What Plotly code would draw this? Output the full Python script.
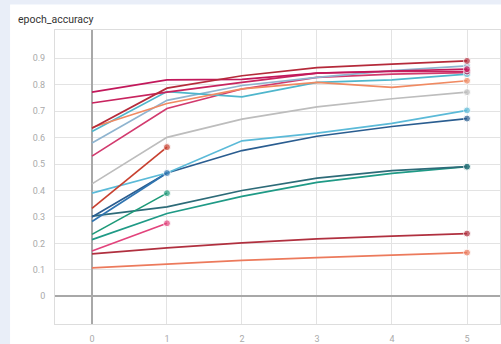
import plotly.graph_objects as go

epochs = [0, 1, 2, 3, 4, 5]
short_epochs = [0, 1]
y_ticks = [0, 0.1, 0.2, 0.3, 0.4, 0.5, 0.6, 0.7, 0.8, 0.9]
y_tick_labels = ["0", "0.1", "0.2", "0.3", "0.4", "0.5", "0.6", "0.7", "0.8", "0.9"]

run_dark_red_top = [0.635, 0.787, 0.834, 0.865, 0.878, 0.89]
run_magenta_top = [0.772, 0.818, 0.82, 0.844, 0.852, 0.859]
run_magenta_2 = [0.731, 0.772, 0.809, 0.844, 0.85, 0.85]
run_orange = [0.638, 0.729, 0.784, 0.809, 0.79, 0.815]
run_cyan_top = [0.623, 0.774, 0.754, 0.809, 0.818, 0.84]
run_steel = [0.58, 0.741, 0.797, 0.828, 0.853, 0.871]
run_magenta_3 = [0.53, 0.71, 0.784, 0.828, 0.84, 0.846]
run_gray = [0.425, 0.601, 0.67, 0.716, 0.747, 0.772]
run_cyan = [0.39, 0.466, 0.588, 0.617, 0.654, 0.703]
run_navy = [0.30, 0.466, 0.551, 0.605, 0.642, 0.672]
run_dark_teal = [0.303, 0.338, 0.40, 0.447, 0.475, 0.49]
run_green_teal = [0.214, 0.313, 0.378, 0.431, 0.465, 0.49]
run_dark_red_low = [0.16, 0.183, 0.202, 0.217, 0.227, 0.237]
run_orange_low = [0.107, 0.121, 0.136, 0.146, 0.155, 0.165]

short_red = [0.332, 0.564]
short_blue = [0.283, 0.466]
short_green = [0.234, 0.39]
short_pink = [0.171, 0.276]

full_runs = [
    (run_orange_low, "#ec7a5c"),
    (run_dark_red_low, "#b0303f"),
    (run_green_teal, "#1f9a86"),
    (run_dark_teal, "#2d6b78"),
    (run_navy, "#2a5d90"),
    (run_cyan, "#5bbad8"),
    (run_gray, "#bdbdbd"),
    (run_magenta_3, "#d23a6e"),
    (run_steel, "#8fb4cf"),
    (run_cyan_top, "#4fb6cc"),
    (run_orange, "#f08a62"),
    (run_magenta_2, "#c8245f"),
    (run_magenta_top, "#c2185b"),
    (run_dark_red_top, "#b52a3a"),
]
short_runs = [
    (short_red, "#c8402f"),
    (short_blue, "#2f74b0"),
    (short_green, "#1d9a78"),
    (short_pink, "#e2437c"),
]

fig = go.Figure()
for vals, col in full_runs:
    fig.add_trace(go.Scatter(
        x=epochs, y=vals, mode="lines+markers",
        line=dict(color=col, width=1.7),
        marker=dict(color=col, size=[0] * (len(vals) - 1) + [7]),
        showlegend=False, hoverinfo="skip"))
for vals, col in short_runs:
    fig.add_trace(go.Scatter(
        x=short_epochs, y=vals, mode="lines+markers",
        line=dict(color=col, width=1.7),
        marker=dict(color=col, size=[0] * (len(vals) - 1) + [7]),
        showlegend=False, hoverinfo="skip"))

fig.update_layout(
    width=501, height=344,
    margin=dict(l=55, r=0, t=30, b=15),
    paper_bgcolor="#e9eef8",
    plot_bgcolor="white",
    font=dict(family="Roboto, Arial, sans-serif"),
    shapes=[dict(type="rect", xref="paper", yref="paper",
                 x0=-0.101, x1=1.05, y0=-0.1, y1=1.087,
                 fillcolor="white", line=dict(width=0), layer="below")],
    annotations=[dict(text="epoch_accuracy", xref="paper", yref="paper",
                      x=-0.087, y=1.037, xanchor="left", yanchor="middle",
                      showarrow=False, font=dict(size=10.5, color="#333333"))],
)
fig.update_xaxes(
    range=[-0.493, 5.44], tickvals=epochs, ticktext=[str(e) for e in epochs],
    showgrid=True, gridcolor="#e3e3e3", gridwidth=1,
    zeroline=True, zerolinecolor="#a8a8a8", zerolinewidth=1.5,
    showline=True, linecolor="#dddddd", linewidth=1, mirror=True,
    tickfont=dict(size=9, color="#aaaaaa"), ticks="", ticklabelstandoff=6,
)
fig.update_yaxes(
    range=[-0.105, 1.007], tickvals=y_ticks, ticktext=y_tick_labels,
    showgrid=True, gridcolor="#e3e3e3", gridwidth=1,
    zeroline=True, zerolinecolor="#a8a8a8", zerolinewidth=1.5,
    showline=True, linecolor="#dddddd", linewidth=1, mirror=True,
    tickfont=dict(size=9, color="#aaaaaa"), ticks="", ticklabelstandoff=7,
)

fig.write_html(
    "out.html",
    config={"displayModeBar": False},
    post_script="document.body.style.margin='0';document.body.style.overflow='hidden';",
)
